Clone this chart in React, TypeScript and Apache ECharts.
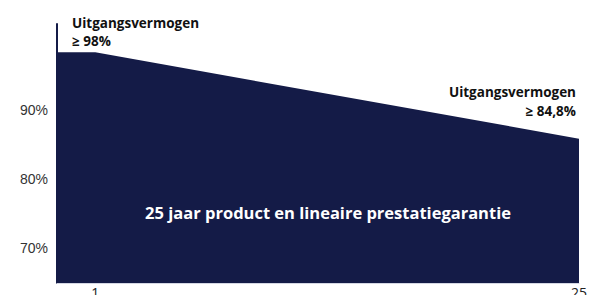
import React, { useEffect, useRef } from "react";
import * as echarts from "echarts";

const years = [-0.9, 1, 25];
const outputValues = [98.4, 98.4, 85.9];
const xTickValues = [1, 25];
const yTickValues = [70, 80, 90];
const startLabel = ["Uitgangsvermogen", "≥ 98%"];
const endLabel = ["Uitgangsvermogen", "≥ 84,8%"];
const centerLabel = "25 jaar product en lineaire prestatiegarantie";

const NAVY = "#141b47";

export default function App() {
  const ref = useRef<HTMLDivElement>(null);
  useEffect(() => {
    document.body.style.margin = "0";
    const chart = echarts.init(ref.current!, null, { renderer: "svg" });
    const font = "'Open Sans', 'Noto Sans', sans-serif";
    const labelFont = `bold 13.5px ${font}`;
    chart.setOption({
      animation: false,
      grid: { left: 57, right: 19, top: 24, bottom: 12, outerBoundsMode: "none", containLabel: false },
      xAxis: {
        type: "value",
        min: -0.9,
        max: 25,
        splitLine: { show: false },
        axisTick: { show: false },
        axisLine: { show: true, onZero: false, lineStyle: { color: "#d4d7e3", width: 1 } },
        axisLabel: {
          customValues: xTickValues,
          color: "#222",
          fontSize: 14,
          fontFamily: font,
          margin: 2,
        },
      },
      yAxis: {
        type: "value",
        min: 65,
        max: 102.5,
        splitLine: { show: false },
        axisTick: { show: false },
        axisLine: { show: true, onZero: false, lineStyle: { color: NAVY, width: 2 } },
        axisLabel: {
          customValues: yTickValues,
          formatter: "{value}%",
          color: "#333",
          fontSize: 14,
          fontFamily: "'Liberation Sans', Arial, sans-serif",
          margin: 9,
        },
      },
      series: [
        {
          type: "line",
          data: years.map((y, i) => [y, outputValues[i]]),
          showSymbol: false,
          lineStyle: { width: 0, color: NAVY },
          areaStyle: { color: NAVY, opacity: 1, origin: "start" },
          silent: true,
        },
      ],
      graphic: [
        {
          type: "text",
          z: 100,
          x: 72,
          y: 23,
          style: { text: startLabel[0], font: labelFont, fill: "#111", align: "left", verticalAlign: "middle" },
        },
        {
          type: "text",
          z: 100,
          x: 72,
          y: 41,
          style: { text: startLabel[1], font: labelFont, fill: "#111", align: "left", verticalAlign: "middle" },
        },
        {
          type: "text",
          z: 100,
          x: 576,
          y: 92,
          style: { text: endLabel[0], font: labelFont, fill: "#111", align: "right", verticalAlign: "middle" },
        },
        {
          type: "text",
          z: 100,
          x: 576,
          y: 111,
          style: { text: endLabel[1], font: labelFont, fill: "#111", align: "right", verticalAlign: "middle" },
        },
        {
          type: "text",
          z: 100,
          x: 328,
          y: 212,
          style: {
            text: centerLabel,
            font: `bold 16.5px ${font}`,
            fill: "#ffffff",
            align: "center",
            verticalAlign: "middle",
          },
        },
      ],
    });
    return () => chart.dispose();
  }, []);
  return <div ref={ref} style={{ width: 598, height: 295 }} />;
}
